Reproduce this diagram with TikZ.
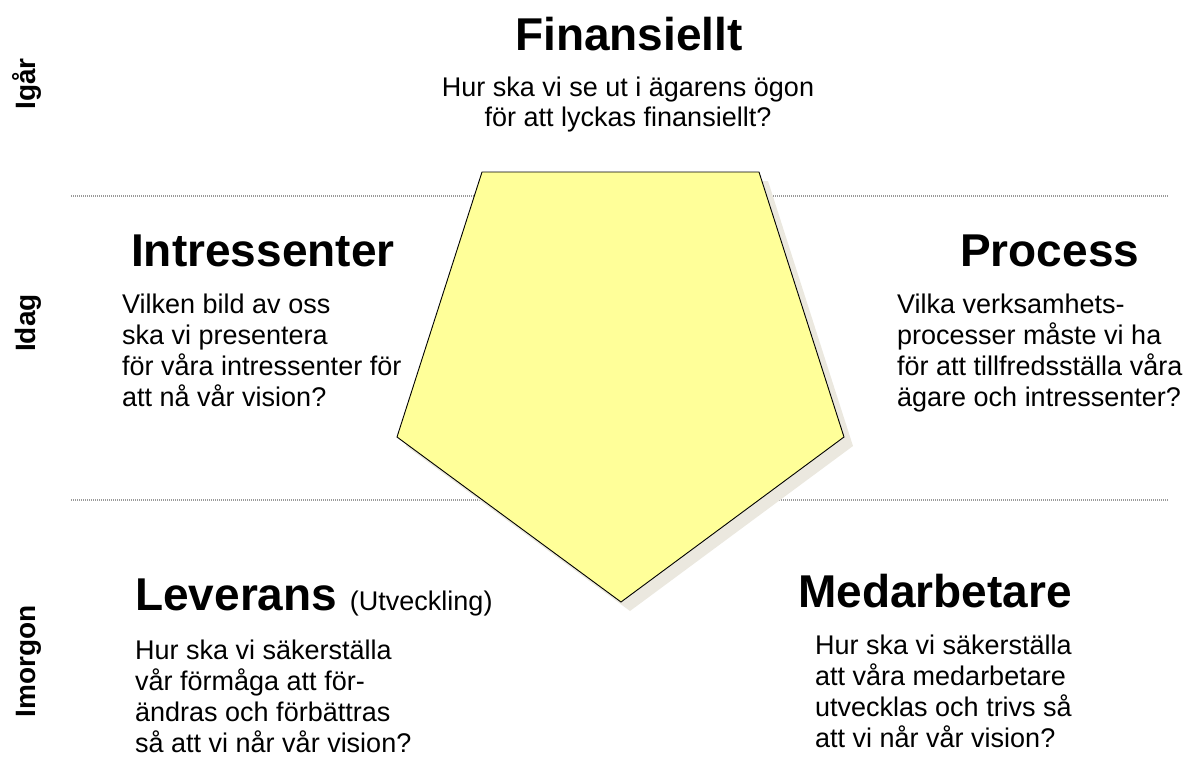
\documentclass[tikz,border=0pt]{standalone}
\usepackage{fontspec}
\setmainfont{Liberation Sans}
\definecolor{penta}{HTML}{FFFF99}
\definecolor{pshadow}{HTML}{EBE8DF}
\definecolor{rule}{HTML}{9A9A9A}
\begin{document}
\begin{tikzpicture}[x=1pt,y=-1pt,
  head/.style={font=\fontsize{46}{50}\selectfont\bfseries, inner sep=0pt},
  body/.style={font=\fontsize{27}{31}\selectfont, inner sep=0pt, align=left},
  bodyc/.style={font=\fontsize{27}{30}\selectfont, inner sep=0pt, align=center},
  side/.style={font=\fontsize{28}{30}\selectfont\bfseries, inner sep=0pt, rotate=90, anchor=base},
  sep/.style={draw=rule, line width=1.6pt, dash pattern=on 1pt off 1pt}]
\useasboundingbox (0,0) rectangle (1195,756);
% time bands
\coordinate (l1a) at (71,196); \coordinate (l1b) at (1168,196);
\coordinate (l2a) at (71,500); \coordinate (l2b) at (1168,500);
\draw[sep] (l1a) -- (l1b);
\draw[sep] (l2a) -- (l2b);
% pentagon
\coordinate (p1) at (482,172); \coordinate (p2) at (759,172);
\coordinate (p3) at (844,437); \coordinate (p4) at (621,602);
\coordinate (p5) at (397,437);
\fill[pshadow] ([xshift=9pt,yshift=-9pt]p1) -- ([xshift=9pt,yshift=-9pt]p2) -- ([xshift=9pt,yshift=-9pt]p3) -- ([xshift=9pt,yshift=-9pt]p4) -- ([xshift=9pt,yshift=-9pt]p5) -- cycle;
\filldraw[fill=penta, draw=black, line width=0.9pt, line join=miter] (p1) -- (p2) -- (p3) -- (p4) -- (p5) -- cycle;
% side labels
\node[side] (igar) at (35,84) {Igår};
\node[side] (idag) at (35,323) {Idag};
\node[side] (imorgon) at (35,661) {Imorgon};
% Finansiellt
\node[head, anchor=base] (fin) at (629,50) {Finansiellt};
\node[bodyc, anchor=base] (finb) at (628,126) {Hur ska vi se ut i ägarens ögon\\för att lyckas finansiellt?};
% Intressenter
\node[head, anchor=base west] (int) at (131,266) {Intressenter};
\node[body, anchor=base west] (intb) at (122,406) {Vilken bild av oss\\ska vi presentera\\för våra intressenter för\\att nå vår vision?};
% Process
\node[head, anchor=base west] (pro) at (960,266) {Process};
\node[body, anchor=base west] (prob) at (897,406) {Vilka verksamhets-\\processer måste vi ha\\för att tillfredsställa våra\\ägare och intressenter?};
% Leverans
\node[head, anchor=base west] (lev) at (135,610) {Leverans {\fontsize{27}{30}\selectfont\mdseries(Utveckling)}};
\node[body, anchor=base west] (levb) at (135,752) {Hur ska vi säkerställa\\vår förmåga att för-\\ändras och förbättras\\så att vi når vår vision?};
% Medarbetare
\node[head, anchor=base west] (med) at (798,607) {Medarbetare};
\node[body, anchor=base west] (medb) at (815,747) {Hur ska vi säkerställa\\att våra medarbetare\\utvecklas och trivs så\\att vi når vår vision?};
\end{tikzpicture}
\end{document}
